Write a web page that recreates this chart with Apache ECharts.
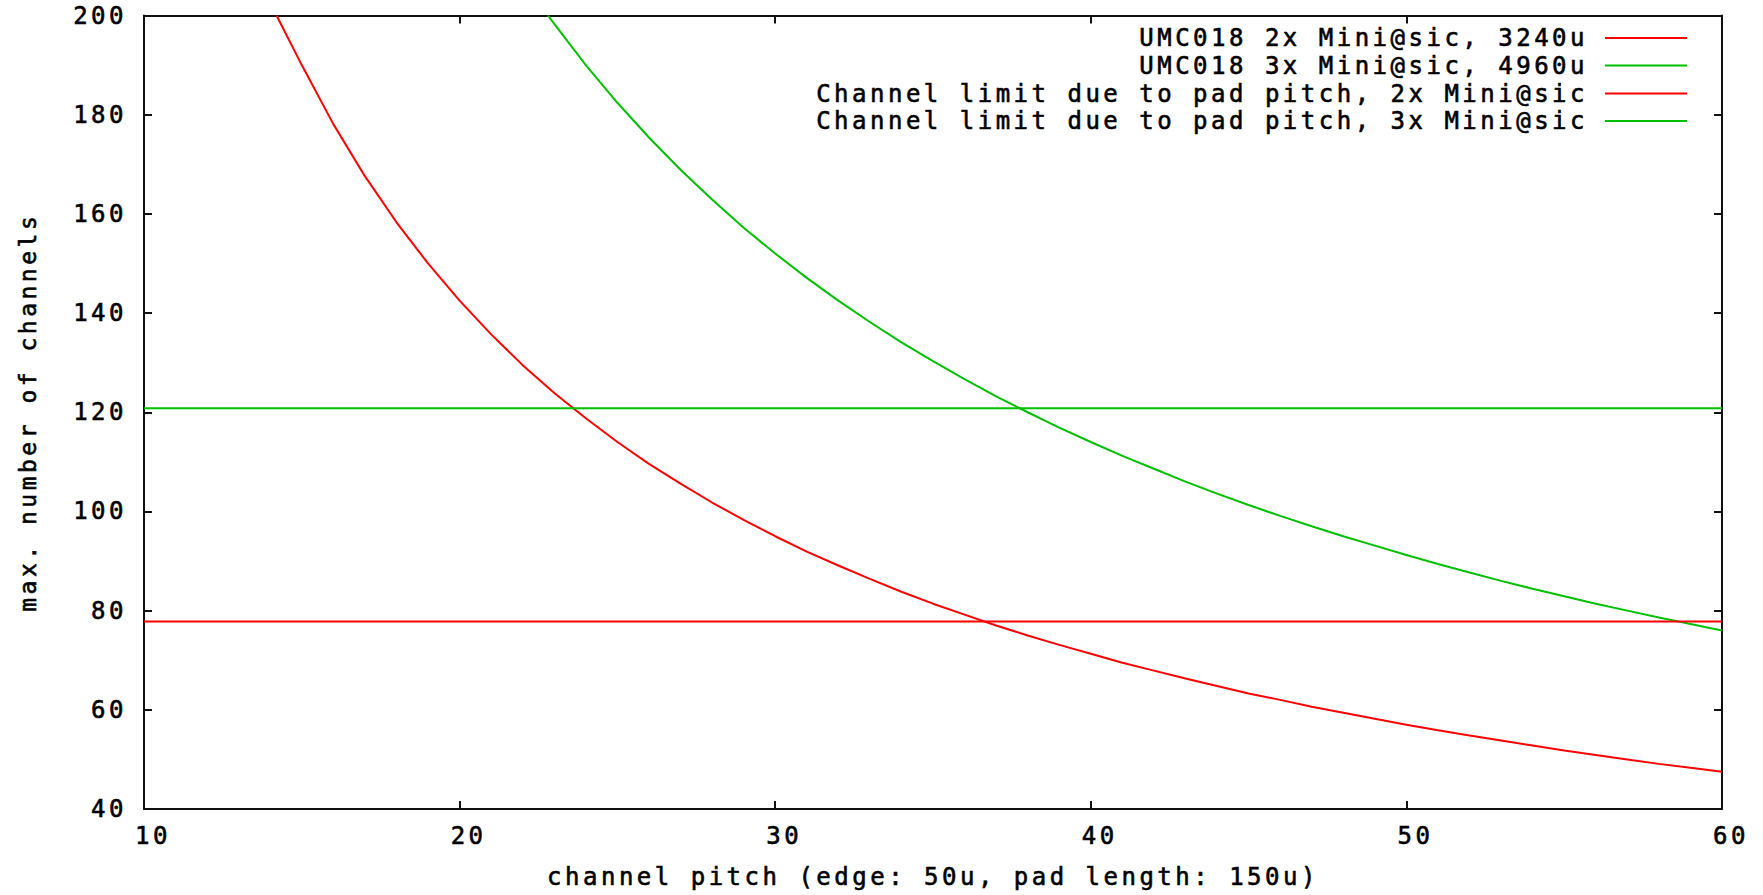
<!DOCTYPE html>
<html><head><meta charset="utf-8">
<script src="https://cdn.jsdelivr.net/npm/echarts@6/dist/echarts.min.js"></script>
<style>
html,body{margin:0;padding:0;background:#fff;}
#chart{width:1763px;height:895px;}
#chart svg text{letter-spacing:3.5px;}
</style></head><body><div id="chart"></div>
<script>
// Values
const seriesNames = [
  'UMC018 2x Mini@sic, 3240u',
  'UMC018 3x Mini@sic, 4960u',
  'Channel limit due to pad pitch, 2x Mini@sic',
  'Channel limit due to pad pitch, 3x Mini@sic'
];
const pitch2x = [14.2,15,16,17,18,19,20,21,22,23,24,25,26,27,28,29,30,31,32,33,34,35,36,37,38,39,40,41,42,43,44,45,46,47,48,49,50,51,52,53,54,55,56,57,58,59,60];
const channels2x = [200,190,178.1,167.6,158.3,150,142.5,135.7,129.5,123.9,118.8,114,109.6,105.6,101.8,98.3,95,91.9,89.1,86.4,83.8,81.4,79.2,77,75,73.1,71.3,69.5,67.9,66.3,64.8,63.3,62,60.6,59.4,58.2,57,55.9,54.8,53.8,52.8,51.8,50.9,50,49.1,48.3,47.5];
const pitch3x = [22.8,23,24,25,26,27,28,29,30,31,32,33,34,35,36,37,38,39,40,41,42,43,44,45,46,47,48,49,50,51,52,53,54,55,56,57,58,59,60];
const channels3x = [200,198.3,190,182.4,175.4,168.9,162.9,157.2,152,147.1,142.5,138.2,134.1,130.3,126.7,123.2,120,116.9,114,111.2,108.6,106,103.6,101.3,99.1,97,95,93.1,91.2,89.4,87.7,86,84.4,82.9,81.4,80,78.6,77.3,76];
const limitPitch = [10, 60];
const limit2x = [77.8, 77.8];
const limit3x = [120.8, 120.8];
const xTicks = {min: 10, max: 60, interval: 10};
const yTicks = {min: 40, max: 200, interval: 20};
const colors = ['#ff0000', '#00c000', '#ff0000', '#00c000'];

const zip = (xs, ys) => xs.map((x, i) => [x, ys[i]]);
const FONT = 'DejaVu Sans Mono';
const txt = (size, extra) => Object.assign({
  fontFamily: FONT, fontSize: size, color: '#000',
  textBorderColor: '#000', textBorderWidth: 0.6
}, extra || {});

const axisCommon = {
  type: 'value',
  axisLine: {show: true, onZero: false, lineStyle: {color: '#111', width: 2}},
  axisTick: {show: true, inside: true, length: 8, lineStyle: {color: '#111', width: 2}},
  splitLine: {show: false}
};

const chart = echarts.init(document.getElementById('chart'), null, {renderer: 'svg'});
const legendTops = [24, 51.5, 79.5, 107];
const option = {
  animation: false,
  backgroundColor: '#fff',
  grid: {left: 144, right: 41, top: 15.5, bottom: 86},
  legend: seriesNames.map((n, i) => ({
    data: [n],
    right: 76,
    top: legendTops[i],
    align: 'right',
    orient: 'horizontal',
    padding: 0,
    icon: 'rect',
    itemWidth: 82,
    itemHeight: 2,
    selectedMode: false,
    textStyle: txt(24, {lineHeight: 28, padding: [0, 12, 0, 0]})
  })),
  xAxis: [
    Object.assign({}, axisCommon, xTicks, {
      position: 'bottom',
      name: 'channel pitch (edge: 50u, pad length: 150u)',
      nameLocation: 'middle',
      nameGap: 56,
      nameTextStyle: txt(24),
      axisLabel: txt(24, {margin: 15, padding: [0, 0, 0, 18]})
    }),
    Object.assign({}, axisCommon, xTicks, {position: 'top', axisLabel: {show: false}})
  ],
  yAxis: [
    Object.assign({}, axisCommon, yTicks, {
      position: 'left',
      name: 'max. number of channels',
      nameLocation: 'middle',
      nameGap: 105,
      nameRotate: 90,
      nameTextStyle: txt(23),
      axisLabel: txt(24, {margin: 17})
    }),
    Object.assign({}, axisCommon, yTicks, {position: 'right', axisLabel: {show: false}})
  ],
  series: [
    {name: seriesNames[0], data: zip(pitch2x, channels2x)},
    {name: seriesNames[1], data: zip(pitch3x, channels3x)},
    {name: seriesNames[2], data: zip(limitPitch, limit2x)},
    {name: seriesNames[3], data: zip(limitPitch, limit3x)}
  ].map((s, i) => Object.assign(s, {
    type: 'line',
    xAxisIndex: 0,
    yAxisIndex: 0,
    showSymbol: false,
    symbol: 'none',
    clip: true,
    color: colors[i],
    itemStyle: {color: colors[i]},
    lineStyle: {color: colors[i], width: 2},
    emphasis: {disabled: true}
  }))
};
chart.setOption(option);
</script></body></html>
